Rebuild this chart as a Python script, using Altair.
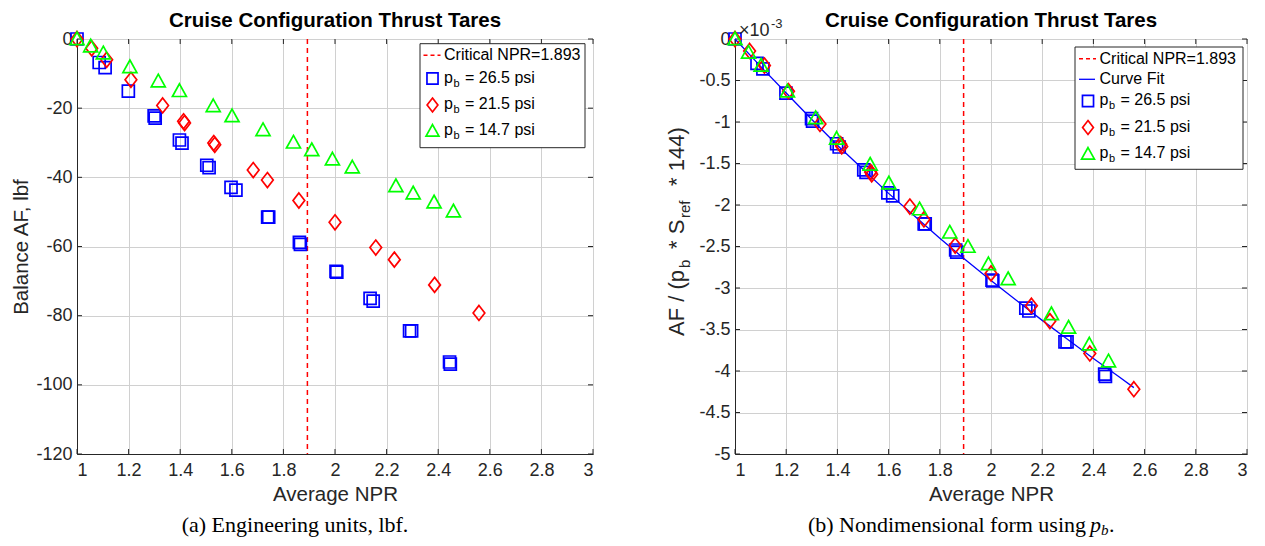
import altair as alt
import pandas as pd

FONT = "Liberation Sans"
SERIF = "Liberation Serif"
BLUE, RED, GREEN = "#0000ff", "#ff0000", "#00ff00"
AXC = "#262626"

# ---------------- data ----------------
x_ticks = [1, 1.2, 1.4, 1.6, 1.8, 2, 2.2, 2.4, 2.6, 2.8, 3]
yl_ticks = [-120, -100, -80, -60, -40, -20, 0]
yr_ticks = [-5, -4.5, -4, -3.5, -3, -2.5, -2, -1.5, -1, -0.5, 0]

critical_npr = [1.893]

npr_265 = [1.000, 1.086, 1.109, 1.199, 1.299, 1.303, 1.397, 1.407, 1.503, 1.512, 1.597, 1.616,
           1.739, 1.743, 1.862, 1.866, 2.004, 2.007, 2.136, 2.148, 2.289, 2.297, 2.444, 2.447]
af_265 = [0.0, -6.8, -8.3, -15.1, -22.2, -22.9, -29.2, -30.1, -36.5, -37.2, -42.9, -43.7,
          -51.5, -51.5, -58.8, -59.4, -67.2, -67.4, -75.0, -75.8, -84.4, -84.4, -93.4, -94.0]
nd_265 = [0.0, -0.294, -0.359, -0.653, -0.960, -0.990, -1.262, -1.301, -1.578, -1.608, -1.855, -1.889,
          -2.227, -2.227, -2.542, -2.568, -2.905, -2.914, -3.243, -3.277, -3.649, -3.649, -4.038, -4.064]

npr_215 = [1.000, 1.057, 1.115, 1.209, 1.332, 1.413, 1.417, 1.530, 1.534, 1.683, 1.738, 1.860,
           2.000, 2.158, 2.230, 2.386, 2.558]
af_215 = [0.0, -2.7, -6.0, -11.8, -19.2, -23.8, -24.3, -30.1, -30.6, -37.9, -40.8, -46.7,
          -53.0, -60.3, -63.8, -71.1, -79.2]
nd_215 = [0.0, -0.144, -0.320, -0.629, -1.023, -1.268, -1.295, -1.604, -1.630, -2.019, -2.174, -2.488,
          -2.824, -3.213, -3.399, -3.788, -4.219]

npr_147 = [1.000, 1.053, 1.102, 1.205, 1.315, 1.397, 1.528, 1.601, 1.721, 1.839, 1.910, 1.990,
           2.067, 2.236, 2.303, 2.384, 2.459]
af_147 = [0.0, -2.1, -4.1, -8.1, -12.2, -15.0, -19.4, -22.3, -26.3, -29.9, -32.1, -34.8,
          -37.1, -42.5, -44.6, -47.2, -49.8]
nd_147 = [0.0, -0.164, -0.320, -0.631, -0.951, -1.200, -1.512, -1.738, -2.050, -2.330, -2.502, -2.712,
          -2.892, -3.313, -3.476, -3.679, -3.882]

fit_npr = [1.0, 1.1, 1.2, 1.3, 1.4, 1.5, 1.6, 1.7, 1.8, 1.9, 2.0, 2.1, 2.2, 2.3, 2.4, 2.5, 2.558]
fit_nd = [0.0, -0.33, -0.65, -0.97, -1.28, -1.57, -1.86, -2.13, -2.40, -2.66, -2.91, -3.15,
          -3.39, -3.62, -3.85, -4.07, -4.20]

pb_labels = ["26.5", "21.5", "14.7"]

SQUARE = "square"
DIAMOND = "M0,-1L0.78,0L0,1L-0.78,0Z"
TRIANGLE = "M0,-1L1,0.8L-1,0.8Z"

series = [
    (npr_265, af_265, nd_265, BLUE, SQUARE, 144),
    (npr_215, af_215, nd_215, RED, DIAMOND, 225),
    (npr_147, af_147, nd_147, GREEN, TRIANGLE, 196),
]

ONE = pd.DataFrame({"k": [0]})

TITLE = "Cruise Configuration Thrust Tares"
SW = 1.7
TK = 5  # inward tick length


def x_enc():
    return alt.X("x:Q", scale=alt.Scale(domain=[1, 3], nice=False, zero=False),
                 axis=alt.Axis(values=x_ticks, format=".1~f", title="Average NPR",
                               grid=True, ticks=False, labelPadding=7, titlePadding=5))


def y_enc(domain, ticks, title):
    if title is None:
        ax = alt.Axis(values=ticks, labelExpr="'' + datum.value", title=None,
                      grid=True, ticks=False, labelPadding=5)
    else:
        ax = alt.Axis(values=ticks, labelExpr="'' + datum.value", title=title,
                      grid=True, ticks=False, labelPadding=5, titlePadding=4)
    return alt.Y("y:Q", scale=alt.Scale(domain=domain, nice=False, zero=False), axis=ax)


def text(t, x, y, size=16, align="left", font=FONT, angle=None, style=None, color="black",
         baseline="middle", weight=None):
    kw = dict(text=t, fontSize=size, align=align, baseline=baseline, font=font, color=color)
    if angle is not None:
        kw["angle"] = angle
    if style is not None:
        kw["fontStyle"] = style
    if weight is not None:
        kw["fontWeight"] = weight
    return alt.Chart(ONE).mark_text(**kw).encode(x=alt.value(x), y=alt.value(y))


def inward_ticks(yd, yt, ytitle, w, h):
    xs = pd.DataFrame({"x": x_ticks})
    ys = pd.DataFrame({"y": yt})
    out = []
    for a, b in [(0, TK), (h - TK, h)]:
        out.append(alt.Chart(xs).mark_rule(color=AXC, strokeWidth=1).encode(
            x=x_enc(), y=alt.value(a), y2=alt.value(b)))
    for a, b in [(0, TK), (w - TK, w)]:
        out.append(alt.Chart(ys).mark_rule(color=AXC, strokeWidth=1).encode(
            y=y_enc(yd, yt, ytitle), x=alt.value(a), x2=alt.value(b)))
    return out


def legend(box, x_sym, x_txt, rows, entries):
    x0, x1, y0, y1 = box
    layers = [alt.Chart(ONE).mark_rect(fill="white", stroke=AXC, strokeWidth=1).encode(
        x=alt.value(x0), x2=alt.value(x1), y=alt.value(y0), y2=alt.value(y1))]
    for (kind, a, b), ry in zip(entries, rows):
        if kind == "dash":
            layers.append(alt.Chart(ONE).mark_rule(color=a, strokeDash=[4, 3], strokeWidth=1.5).encode(
                x=alt.value(x_sym - 9), x2=alt.value(x_sym + 8), y=alt.value(ry)))
            layers.append(text(b, x_txt, ry))
        elif kind == "line":
            layers.append(alt.Chart(ONE).mark_rule(color=a, strokeWidth=1.3).encode(
                x=alt.value(x_sym - 9), x2=alt.value(x_sym + 7), y=alt.value(ry)))
            layers.append(text(b, x_txt, ry))
        else:
            color, shape, size = a
            layers.append(alt.Chart(ONE).mark_point(shape=shape, size=size * 0.85, filled=False,
                                                   color=color, strokeWidth=SW, opacity=1).encode(
                x=alt.value(x_sym), y=alt.value(ry + 1)))
            layers.append(text("p", x_txt, ry))
            layers.append(text("b", x_txt + 9.5, ry + 6, size=11))
            layers.append(text("= " + b + " psi", x_txt + 21, ry))
    return layers


# ---------------- left panel ----------------
L_W, H = 516, 415
left_layers = inward_ticks([-120, 0], yl_ticks, "Balance AF, lbf", L_W, H)
left_layers.append(
    alt.Chart(pd.DataFrame({"x": critical_npr})).mark_rule(
        color=RED, strokeDash=[5, 4], strokeWidth=1.5).encode(x=x_enc())
)
for npr, af, nd, color, shape, size in series:
    left_layers.append(
        alt.Chart(pd.DataFrame({"x": npr, "y": af})).mark_point(
            shape=shape, size=size, filled=False, color=color, strokeWidth=SW, opacity=1, clip=False
        ).encode(x=x_enc(), y=y_enc([-120, 0], yl_ticks, "Balance AF, lbf"))
    )
left_layers += legend(
    (343, 508, 4.7, 108.7), 355.5, 367, [16.3, 38.5, 65, 91],
    [("dash", RED, "Critical NPR=1.893")]
    + [("sym", (s[3], s[4], s[5]), lab) for s, lab in zip(series, pb_labels)],
)
left_layers.append(text(TITLE, L_W / 2, -18, size=20.5, align="center", weight="bold"))
left_layers.append(text("(a) Engineering units, lbf.", 218, 486, size=22, align="center", font=SERIF))

left = alt.layer(*left_layers).properties(width=L_W, height=H)

# ---------------- right panel ----------------
R_W = 512
right_layers = inward_ticks([-5, 0], yr_ticks, None, R_W, H)
right_layers += [
    alt.Chart(pd.DataFrame({"x": critical_npr})).mark_rule(
        color=RED, strokeDash=[5, 4], strokeWidth=1.5).encode(x=x_enc()),
    alt.Chart(pd.DataFrame({"x": fit_npr, "y": fit_nd})).mark_line(
        color=BLUE, strokeWidth=1.3).encode(x=x_enc(), y=y_enc([-5, 0], yr_ticks, None)),
]
for npr, af, nd, color, shape, size in series:
    right_layers.append(
        alt.Chart(pd.DataFrame({"x": npr, "y": nd})).mark_point(
            shape=shape, size=size, filled=False, color=color, strokeWidth=SW, opacity=1, clip=False
        ).encode(x=x_enc(), y=y_enc([-5, 0], yr_ticks, None))
    )
right_layers += legend(
    (340, 508, 8, 130.3), 353, 364.5, [19.7, 40.3, 61, 87.5, 114],
    [("dash", RED, "Critical NPR=1.893"), ("line", BLUE, "Curve Fit")]
    + [("sym", (s[3], s[4], s[5]), lab) for s, lab in zip(series, pb_labels)],
)
# exponent label
right_layers.append(text("×10", 4, -3, size=18, color=AXC, baseline="alphabetic"))
right_layers.append(text("-3", 36, -11, size=13, color=AXC, baseline="alphabetic"))
# custom y-axis title with subscripts (rotated)
for t, xx, yy, sz in [("AF / (p", -58, 297, 22), ("b", -50, 229, 15), ("* S", -58, 210, 22),
                      ("ref", -50, 179, 15), ("* 144)", -58, 147, 22)]:
    right_layers.append(text(t, xx, yy, size=sz, angle=270, color=AXC))
right_layers.append(text(TITLE, R_W / 2, -18, size=20.5, align="center", weight="bold"))
# caption
right_layers.append(text("(b) Nondimensional form using", 351, 486, size=22, align="right", font=SERIF))
right_layers.append(text("p", 355, 486, size=22, font=SERIF, style="italic"))
right_layers.append(text("b", 366, 491, size=15, font=SERIF, style="italic"))
right_layers.append(text(".", 374, 486, size=22, font=SERIF))

right = alt.layer(*right_layers).properties(width=R_W, height=H)

chart = alt.hconcat(left, right, spacing=71).properties(
    padding={"left": 3, "top": 2, "right": 5, "bottom": 0}
).configure_view(
    stroke=AXC, strokeWidth=1
).configure_axis(
    labelFont=FONT, labelFontSize=18, labelColor=AXC,
    titleFont=FONT, titleFontSize=20.5, titleFontWeight="normal", titleColor=AXC,
    gridColor="#d0d0d0", gridWidth=1, domainColor=AXC, ticks=False,
)

chart.save("out.html", embed_options={"renderer": "svg", "actions": False})
